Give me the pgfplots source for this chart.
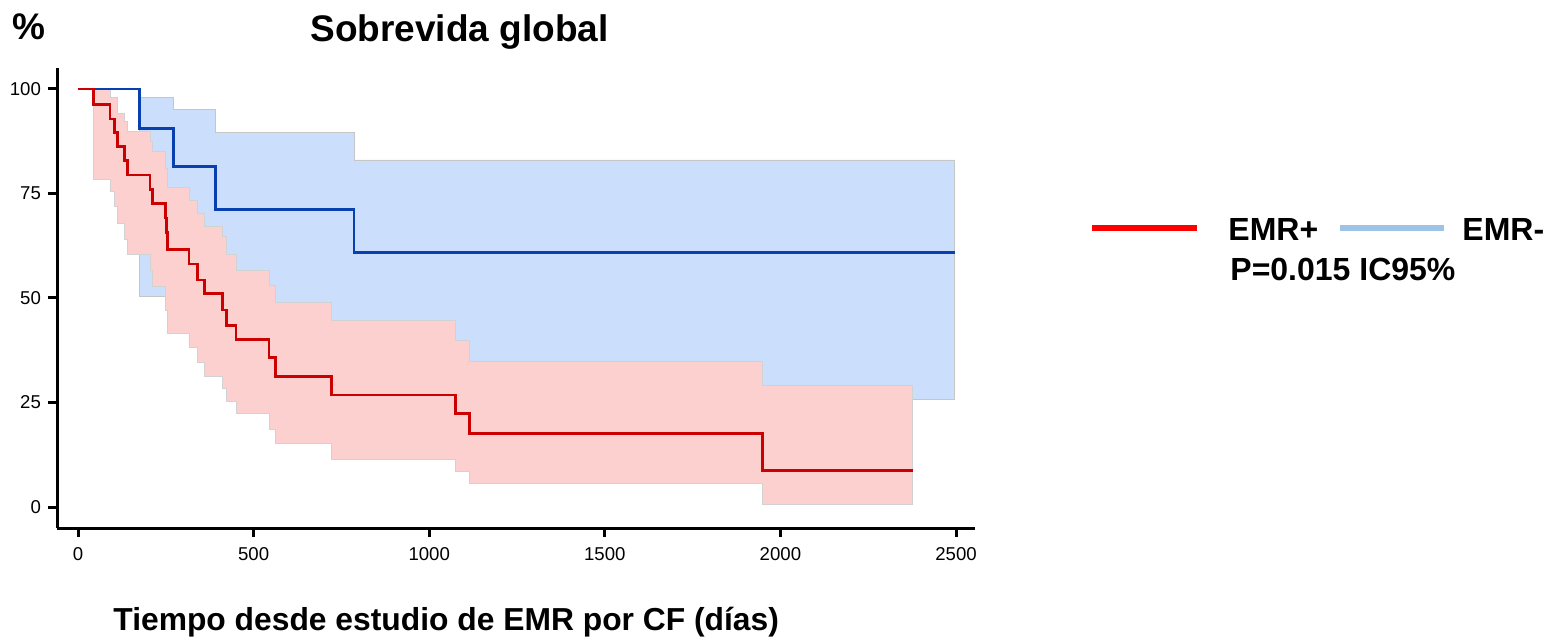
\documentclass[border=0pt]{standalone}
\usepackage{fontspec}
\setmainfont{Liberation Sans}
\usepackage{pgfplots}
\usepackage{pgfplotstable}
\pgfplotsset{compat=1.18}
\usepgfplotslibrary{fillbetween}
\definecolor{pinkband}{RGB}{253,208,208}
\definecolor{blueband}{RGB}{203,222,251}
\definecolor{redcurve}{RGB}{204,0,0}
\definecolor{bluecurve}{RGB}{8,64,176}
\definecolor{legred}{RGB}{255,0,0}
\definecolor{legblue}{RGB}{157,195,230}

% EMR+ (red) Kaplan-Meier estimate
\pgfplotstableread{
t s
0 100
44 96.3
91 92.8
103 89.6
112 86.2
132 82.9
140 79.4
205 76.0
211 72.6
249 69.1
252 65.7
255 61.5
316 58.1
341 54.3
361 51.0
412 47.1
423 43.4
450 40.0
544 35.8
563 31.3
722 26.8
1075 22.4
1114 17.6
1948 8.7
2377 8.7
}\redkm
\pgfplotstableread{
t s
0 100
91 97.9
112 94.2
132 92.2
140 89.8
205 87.4
211 85.0
250 81.0
255 76.5
316 73.3
341 70.3
361 67.1
412 64.7
423 60.5
450 56.7
544 52.9
563 48.9
722 44.6
1075 39.8
1114 34.9
1948 29.0
2377 29.0
}\redup
\pgfplotstableread{
t s
0 100
44 78.4
91 75.4
103 71.8
112 67.8
132 64.0
140 60.5
205 56.7
211 52.7
250 47.1
255 41.5
316 38.2
341 34.5
361 31.3
412 28.3
423 25.3
450 22.4
544 18.6
563 15.3
722 11.5
1075 8.6
1114 5.7
1948 0.7
2377 0.7
}\redlo
% EMR- (blue)
\pgfplotstableread{
t s
0 100
174 90.5
271 81.4
391 71.2
786 60.9
2496 60.9
}\bluekm
\pgfplotstableread{
t s
0 100
174 98.0
271 95.0
391 89.5
786 83.0
2496 83.0
}\blueup
\pgfplotstableread{
t s
0 100
174 50.3
271 42.5
391 33.0
786 25.8
2496 25.8
}\bluelo

\begin{document}
\begin{tikzpicture}
\begin{axis}[
  at={(28.5pt,55pt)}, anchor=south west,
  scale only axis, width=459pt, height=230pt,
  xmin=-59.8, xmax=2554, ymin=-5.02, ymax=105.0,
  axis x line*=bottom, axis y line*=left,
  axis line style={line width=1.5pt,-},
  xtick={0,500,1000,1500,2000,2500},
  ytick={0,25,50,75,100},
  tick align=outside,
  major tick length=4.5pt,
  tick style={line width=1.5pt, black},
  ticklabel style={font=\fontsize{9.3}{11}\selectfont},
  xticklabel style={yshift=-1.5pt},
  /pgf/number format/assume math mode=true,
  /pgf/number format/set thousands separator={},
]
\addplot[draw=none, const plot, name path=bu] table[x=t,y=s] {\blueup};
\addplot[draw=none, const plot, name path=bl] table[x=t,y=s] {\bluelo};
\addplot[fill=blueband, draw=gray!45, line width=0.4pt] fill between[of=bu and bl];
\addplot[draw=none, const plot, name path=ru] table[x=t,y=s] {\redup};
\addplot[draw=none, const plot, name path=rl] table[x=t,y=s] {\redlo};
\addplot[fill=pinkband, draw=gray!35, line width=0.4pt] fill between[of=ru and rl];
\addplot[const plot, bluecurve, line width=1.4pt] table[x=t,y=s] {\bluekm};
\addplot[const plot, redcurve, line width=1.4pt] table[x=t,y=s] {\redkm};
\end{axis}
% titles and labels
\node[anchor=base west, inner sep=0pt, font=\fontsize{18.5}{22}\selectfont\bfseries] at (155pt,298pt) {Sobrevida global};
\node[anchor=base west, inner sep=0pt, font=\fontsize{18.5}{22}\selectfont\bfseries] at (6pt,299pt) {\%};
\node[anchor=base west, inner sep=0pt, font=\fontsize{15.9}{19}\selectfont\bfseries] at (56.5pt,4pt) {Tiempo desde estudio de EMR por CF (días)};
% legend
\draw[legred, line width=2.6pt] (546pt,205pt) -- (598.5pt,205pt);
\node[anchor=base west, inner sep=0pt, font=\fontsize{16}{19}\selectfont\bfseries] at (614pt,198.5pt) {EMR+};
\draw[legblue, line width=2.6pt] (670pt,205pt) -- (722pt,205pt);
\node[anchor=base west, inner sep=0pt, font=\fontsize{16}{19}\selectfont\bfseries] at (731pt,198.5pt) {EMR-};
\node[anchor=base west, inner sep=0pt, font=\fontsize{16}{19}\selectfont\bfseries] at (615pt,178.5pt) {P=0.015 IC95\%};
\path (0,0) rectangle (774pt,319pt);
\end{tikzpicture}
\end{document}
